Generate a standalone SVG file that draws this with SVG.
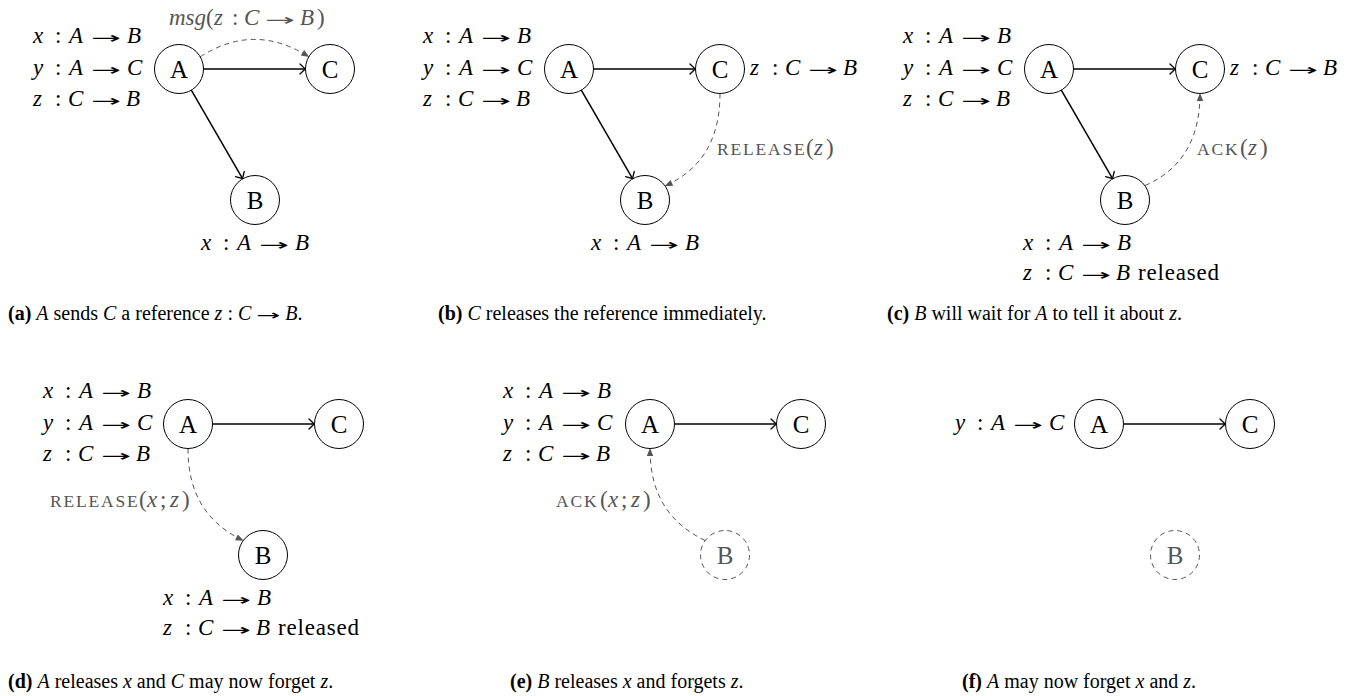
<svg xmlns="http://www.w3.org/2000/svg" width="1356" height="696" viewBox="0 0 1356 696">
<style>
text{font-family:"Liberation Serif","Times New Roman",serif;fill:#000}
.m{font-size:23px}
.i{font-style:italic}
.b{font-weight:bold}
.g{fill:#555}
.ar{font-family:"DejaVu Sans",sans-serif;font-size:15.5px}
.sc{font-size:17.5px;letter-spacing:1.8px}
.rl{letter-spacing:0.8px}
.nl{font-size:25px;text-anchor:middle}
.cap{font-size:20px}
.ca{font-family:"DejaVu Sans",sans-serif;font-size:14px}
.nc{fill:#fff;stroke:#000;stroke-width:1}
.nd{fill:#fff;stroke:#555;stroke-width:1;stroke-dasharray:5 4}
.e{fill:none;stroke:#000;stroke-width:1.5;marker-end:url(#to)}
.d{fill:none;stroke:#555;stroke-width:1;stroke-dasharray:5 4;marker-end:url(#lt)}
</style>
<defs>
<marker id="to" viewBox="-7 -6 8 12" refX="0" refY="0" markerWidth="8" markerHeight="12" markerUnits="userSpaceOnUse" orient="auto">
<path d="M-5.5,-5 Q-1.5,-1 0,0 Q-1.5,1 -5.5,5" fill="none" stroke="#000" stroke-width="1.3" stroke-linecap="round"/>
</marker>
<marker id="lt" viewBox="-9 -5 10 10" refX="0" refY="0" markerWidth="10" markerHeight="10" markerUnits="userSpaceOnUse" orient="auto">
<path d="M0.5,0 L-7.5,-3.2 L-7.5,3.2 Z" fill="#555"/>
</marker>
</defs>

<g id="connectors">
<path class="e" d="M203.5,69 L305.5,69"/>
<path class="e" d="M191.3,90.2 L242.7,178.8"/>
<path class="d" d="M200.2,56.8 Q254.5,22 308.8,56.8"/>
<path class="e" d="M593.5,69 L695.5,69"/>
<path class="e" d="M581.3,90.2 L632.7,178.8"/>
<path class="d" d="M720,93.5 C720,135 705,168 665,186"/>
<path class="e" d="M1073.5,69 L1175.5,69"/>
<path class="e" d="M1061.3,90.2 L1112.7,178.8"/>
<path class="d" d="M1145,185.6 C1185,168 1200,135 1200,93.5"/>
<path class="e" d="M212.5,424 L314.5,424"/>
<path class="d" d="M188,448.5 C188,492 205,522 243.2,540.6"/>
<path class="e" d="M674.5,424 L776.5,424"/>
<path class="d" d="M705.2,540.6 C667,522 650,492 650,448.5"/>
<path class="e" d="M1123.5,424 L1225.5,424"/>
</g>

<!-- panel (a) -->
<g id="a-A"><circle class="nc" cx="179" cy="69" r="24.5"/><text class="nl" x="179" y="77.5">A</text></g>
<g id="a-C"><circle class="nc" cx="330" cy="69" r="24.5"/><text class="nl" x="330" y="77.5">C</text></g>
<g id="a-B"><circle class="nc" cx="255" cy="200" r="24.5"/><text class="nl" x="255" y="208.5">B</text></g>
<g id="a-labels">
<text class="m" y="43"><tspan class="i" x="33">x</tspan> <tspan x="55">:</tspan> <tspan class="i" x="69">A</tspan> <tspan class="ar" x="91" textLength="30" lengthAdjust="spacingAndGlyphs">→</tspan> <tspan class="i" x="127">B</tspan></text>
<text class="m" y="75"><tspan class="i" x="33">y</tspan> <tspan x="55">:</tspan> <tspan class="i" x="69">A</tspan> <tspan class="ar" x="91" textLength="30" lengthAdjust="spacingAndGlyphs">→</tspan> <tspan class="i" x="127">C</tspan></text>
<text class="m" y="106"><tspan class="i" x="33">z</tspan> <tspan x="55">:</tspan> <tspan class="i" x="68">C</tspan> <tspan class="ar" x="91" textLength="30" lengthAdjust="spacingAndGlyphs">→</tspan> <tspan class="i" x="126">B</tspan></text>
<text class="m" y="250"><tspan class="i" x="201">x</tspan> <tspan x="223">:</tspan> <tspan class="i" x="237">A</tspan> <tspan class="ar" x="259" textLength="30" lengthAdjust="spacingAndGlyphs">→</tspan> <tspan class="i" x="295">B</tspan></text>
<text class="m g" y="25"><tspan class="i" x="169">msg</tspan><tspan x="206">(</tspan><tspan class="i" x="214">z</tspan> <tspan x="232">:</tspan> <tspan class="i" x="244">C</tspan> <tspan class="ar g" x="265" textLength="30" lengthAdjust="spacingAndGlyphs">→</tspan> <tspan class="i" x="300">B</tspan><tspan x="317">)</tspan></text>
</g>

<!-- panel (b) -->
<g id="b-A"><circle class="nc" cx="569" cy="69" r="24.5"/><text class="nl" x="569" y="77.5">A</text></g>
<g id="b-C"><circle class="nc" cx="720" cy="69" r="24.5"/><text class="nl" x="720" y="77.5">C</text></g>
<g id="b-B"><circle class="nc" cx="645" cy="200" r="24.5"/><text class="nl" x="645" y="208.5">B</text></g>
<g id="b-labels">
<text class="m" y="43"><tspan class="i" x="423">x</tspan> <tspan x="445">:</tspan> <tspan class="i" x="459">A</tspan> <tspan class="ar" x="481" textLength="30" lengthAdjust="spacingAndGlyphs">→</tspan> <tspan class="i" x="517">B</tspan></text>
<text class="m" y="75"><tspan class="i" x="423">y</tspan> <tspan x="445">:</tspan> <tspan class="i" x="459">A</tspan> <tspan class="ar" x="481" textLength="30" lengthAdjust="spacingAndGlyphs">→</tspan> <tspan class="i" x="517">C</tspan></text>
<text class="m" y="106"><tspan class="i" x="423">z</tspan> <tspan x="445">:</tspan> <tspan class="i" x="458">C</tspan> <tspan class="ar" x="481" textLength="30" lengthAdjust="spacingAndGlyphs">→</tspan> <tspan class="i" x="516">B</tspan></text>
<text class="m" y="75"><tspan class="i" x="750">z</tspan> <tspan x="772">:</tspan> <tspan class="i" x="785">C</tspan> <tspan class="ar" x="808" textLength="30" lengthAdjust="spacingAndGlyphs">→</tspan> <tspan class="i" x="843">B</tspan></text>
<text class="m" y="250"><tspan class="i" x="591">x</tspan> <tspan x="613">:</tspan> <tspan class="i" x="627">A</tspan> <tspan class="ar" x="649" textLength="30" lengthAdjust="spacingAndGlyphs">→</tspan> <tspan class="i" x="685">B</tspan></text>
<text class="m g" y="155"><tspan class="sc" x="717">RELEASE</tspan><tspan x="806">(</tspan><tspan class="i" x="814">z</tspan><tspan x="826">)</tspan></text>
</g>

<!-- panel (c) -->
<g id="c-A"><circle class="nc" cx="1049" cy="69" r="24.5"/><text class="nl" x="1049" y="77.5">A</text></g>
<g id="c-C"><circle class="nc" cx="1200" cy="69" r="24.5"/><text class="nl" x="1200" y="77.5">C</text></g>
<g id="c-B"><circle class="nc" cx="1125" cy="200" r="24.5"/><text class="nl" x="1125" y="208.5">B</text></g>
<g id="c-labels">
<text class="m" y="43"><tspan class="i" x="903">x</tspan> <tspan x="925">:</tspan> <tspan class="i" x="939">A</tspan> <tspan class="ar" x="961" textLength="30" lengthAdjust="spacingAndGlyphs">→</tspan> <tspan class="i" x="997">B</tspan></text>
<text class="m" y="75"><tspan class="i" x="903">y</tspan> <tspan x="925">:</tspan> <tspan class="i" x="939">A</tspan> <tspan class="ar" x="961" textLength="30" lengthAdjust="spacingAndGlyphs">→</tspan> <tspan class="i" x="997">C</tspan></text>
<text class="m" y="106"><tspan class="i" x="903">z</tspan> <tspan x="925">:</tspan> <tspan class="i" x="938">C</tspan> <tspan class="ar" x="961" textLength="30" lengthAdjust="spacingAndGlyphs">→</tspan> <tspan class="i" x="996">B</tspan></text>
<text class="m" y="75"><tspan class="i" x="1230">z</tspan> <tspan x="1252">:</tspan> <tspan class="i" x="1265">C</tspan> <tspan class="ar" x="1288" textLength="30" lengthAdjust="spacingAndGlyphs">→</tspan> <tspan class="i" x="1323">B</tspan></text>
<text class="m" y="250"><tspan class="i" x="1023">x</tspan> <tspan x="1045">:</tspan> <tspan class="i" x="1059">A</tspan> <tspan class="ar" x="1081" textLength="30" lengthAdjust="spacingAndGlyphs">→</tspan> <tspan class="i" x="1117">B</tspan></text>
<text class="m" y="280"><tspan class="i" x="1023">z</tspan> <tspan x="1045">:</tspan> <tspan class="i" x="1058">C</tspan> <tspan class="ar" x="1081" textLength="30" lengthAdjust="spacingAndGlyphs">→</tspan> <tspan class="i" x="1116">B</tspan> <tspan class="rl" x="1138">released</tspan></text>
<text class="m g" y="155"><tspan class="sc" x="1197">ACK</tspan><tspan x="1240">(</tspan><tspan class="i" x="1248">z</tspan><tspan x="1260">)</tspan></text>
</g>

<!-- panel (d) -->
<g id="d-A"><circle class="nc" cx="188" cy="424" r="24.5"/><text class="nl" x="188" y="432.5">A</text></g>
<g id="d-C"><circle class="nc" cx="339" cy="424" r="24.5"/><text class="nl" x="339" y="432.5">C</text></g>
<g id="d-B"><circle class="nc" cx="263" cy="555" r="24.5"/><text class="nl" x="263" y="563.5">B</text></g>
<g id="d-labels">
<text class="m" y="398"><tspan class="i" x="43">x</tspan> <tspan x="65">:</tspan> <tspan class="i" x="79">A</tspan> <tspan class="ar" x="101" textLength="30" lengthAdjust="spacingAndGlyphs">→</tspan> <tspan class="i" x="137">B</tspan></text>
<text class="m" y="430"><tspan class="i" x="43">y</tspan> <tspan x="65">:</tspan> <tspan class="i" x="79">A</tspan> <tspan class="ar" x="101" textLength="30" lengthAdjust="spacingAndGlyphs">→</tspan> <tspan class="i" x="137">C</tspan></text>
<text class="m" y="461"><tspan class="i" x="43">z</tspan> <tspan x="65">:</tspan> <tspan class="i" x="78">C</tspan> <tspan class="ar" x="101" textLength="30" lengthAdjust="spacingAndGlyphs">→</tspan> <tspan class="i" x="136">B</tspan></text>
<text class="m" y="605"><tspan class="i" x="163">x</tspan> <tspan x="185">:</tspan> <tspan class="i" x="199">A</tspan> <tspan class="ar" x="221" textLength="30" lengthAdjust="spacingAndGlyphs">→</tspan> <tspan class="i" x="257">B</tspan></text>
<text class="m" y="635"><tspan class="i" x="163">z</tspan> <tspan x="185">:</tspan> <tspan class="i" x="198">C</tspan> <tspan class="ar" x="221" textLength="30" lengthAdjust="spacingAndGlyphs">→</tspan> <tspan class="i" x="256">B</tspan> <tspan class="rl" x="278">released</tspan></text>
<text class="m g" y="507"><tspan class="sc" x="50">RELEASE</tspan><tspan x="139">(</tspan><tspan class="i" x="147">x</tspan><tspan x="160">;</tspan> <tspan class="i" x="170">z</tspan><tspan x="182">)</tspan></text>
</g>

<!-- panel (e) -->
<g id="e-A"><circle class="nc" cx="650" cy="424" r="24.5"/><text class="nl" x="650" y="432.5">A</text></g>
<g id="e-C"><circle class="nc" cx="801" cy="424" r="24.5"/><text class="nl" x="801" y="432.5">C</text></g>
<g id="e-B"><circle class="nd" cx="725" cy="555" r="24.5"/><text class="nl g" x="725" y="563.5">B</text></g>
<g id="e-labels">
<text class="m" y="398"><tspan class="i" x="503">x</tspan> <tspan x="525">:</tspan> <tspan class="i" x="539">A</tspan> <tspan class="ar" x="561" textLength="30" lengthAdjust="spacingAndGlyphs">→</tspan> <tspan class="i" x="597">B</tspan></text>
<text class="m" y="430"><tspan class="i" x="503">y</tspan> <tspan x="525">:</tspan> <tspan class="i" x="539">A</tspan> <tspan class="ar" x="561" textLength="30" lengthAdjust="spacingAndGlyphs">→</tspan> <tspan class="i" x="597">C</tspan></text>
<text class="m" y="461"><tspan class="i" x="503">z</tspan> <tspan x="525">:</tspan> <tspan class="i" x="538">C</tspan> <tspan class="ar" x="561" textLength="30" lengthAdjust="spacingAndGlyphs">→</tspan> <tspan class="i" x="596">B</tspan></text>
<text class="m g" y="507"><tspan class="sc" x="556">ACK</tspan><tspan x="600">(</tspan><tspan class="i" x="608">x</tspan><tspan x="621">;</tspan> <tspan class="i" x="631">z</tspan><tspan x="643">)</tspan></text>
</g>

<!-- panel (f) -->
<g id="f-A"><circle class="nc" cx="1099" cy="424" r="24.5"/><text class="nl" x="1099" y="432.5">A</text></g>
<g id="f-C"><circle class="nc" cx="1250" cy="424" r="24.5"/><text class="nl" x="1250" y="432.5">C</text></g>
<g id="f-B"><circle class="nd" cx="1175" cy="555" r="24.5"/><text class="nl g" x="1175" y="563.5">B</text></g>
<g id="f-labels">
<text class="m" y="430"><tspan class="i" x="955">y</tspan> <tspan x="977">:</tspan> <tspan class="i" x="991">A</tspan> <tspan class="ar" x="1013" textLength="30" lengthAdjust="spacingAndGlyphs">→</tspan> <tspan class="i" x="1049">C</tspan></text>
</g>

<g id="captions">
<text class="cap" x="8" y="320"><tspan class="b">(a)</tspan> <tspan class="i">A</tspan> sends <tspan class="i">C</tspan> a reference <tspan class="i">z</tspan> : <tspan class="i">C</tspan> <tspan class="ca" textLength="24" lengthAdjust="spacingAndGlyphs">→</tspan> <tspan class="i">B</tspan>.</text>
<text class="cap" x="438" y="320"><tspan class="b">(b)</tspan> <tspan class="i">C</tspan> releases the reference immediately.</text>
<text class="cap" x="887" y="320"><tspan class="b">(c)</tspan> <tspan class="i">B</tspan> will wait for <tspan class="i">A</tspan> to tell it about <tspan class="i">z</tspan>.</text>
<text class="cap" x="8" y="688"><tspan class="b">(d)</tspan> <tspan class="i">A</tspan> releases <tspan class="i">x</tspan> and <tspan class="i">C</tspan> may now forget <tspan class="i">z</tspan>.</text>
<text class="cap" x="510" y="688"><tspan class="b">(e)</tspan> <tspan class="i">B</tspan> releases <tspan class="i">x</tspan> and forgets <tspan class="i">z</tspan>.</text>
<text class="cap" x="962" y="688"><tspan class="b">(f)</tspan> <tspan class="i">A</tspan> may now forget <tspan class="i">x</tspan> and <tspan class="i">z</tspan>.</text>
</g>
</svg>
